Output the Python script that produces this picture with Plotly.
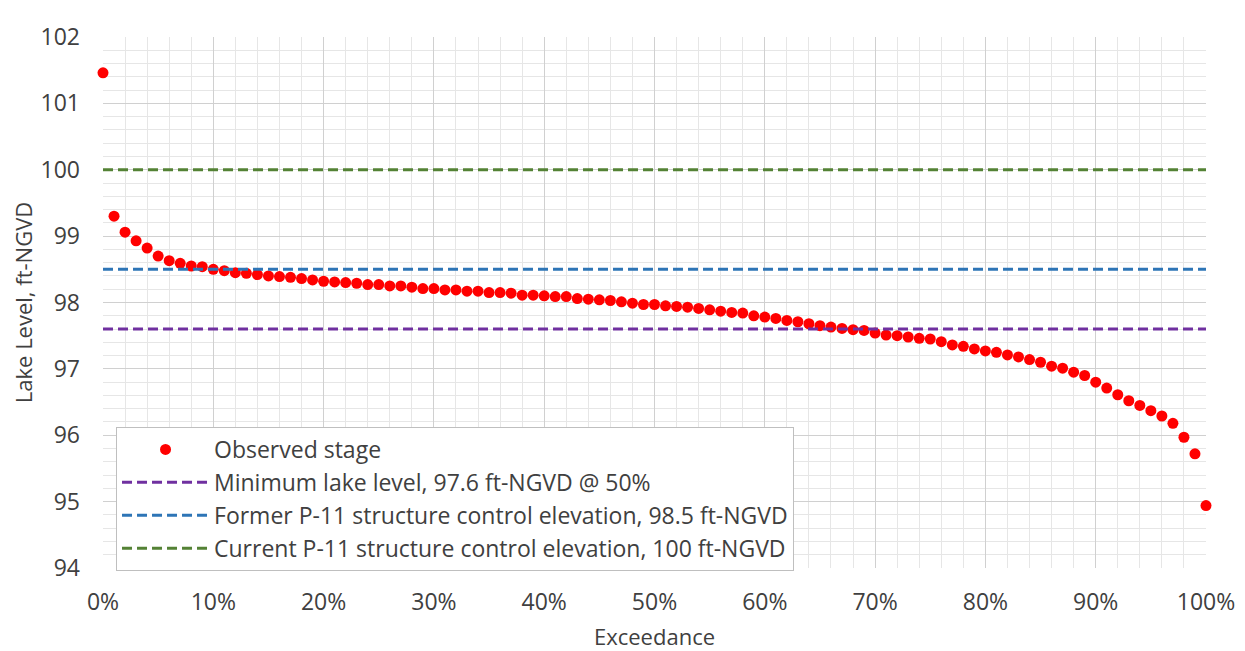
import plotly.graph_objects as go

exceedance = [i / 100 for i in range(101)]
observed_stage = [
    101.46, 99.30, 99.06, 98.93, 98.82, 98.70, 98.63, 98.59, 98.55, 98.54,
    98.50, 98.48, 98.45, 98.44, 98.42, 98.40, 98.39, 98.38, 98.36, 98.34,
    98.32, 98.31, 98.30, 98.29, 98.27, 98.27, 98.25, 98.25, 98.23, 98.21,
    98.21, 98.19, 98.19, 98.17, 98.17, 98.15, 98.15, 98.14, 98.11, 98.11,
    98.10, 98.09, 98.09, 98.06, 98.05, 98.04, 98.03, 98.01, 97.99, 97.97,
    97.97, 97.95, 97.94, 97.93, 97.91, 97.89, 97.87, 97.85, 97.84, 97.80,
    97.78, 97.76, 97.73, 97.71, 97.68, 97.65, 97.63, 97.61, 97.59, 97.58,
    97.54, 97.51, 97.50, 97.48, 97.46, 97.45, 97.41, 97.36, 97.34, 97.30,
    97.27, 97.25, 97.21, 97.18, 97.14, 97.10, 97.04, 97.01, 96.95, 96.90,
    96.80, 96.71, 96.61, 96.52, 96.45, 96.37, 96.29, 96.18, 95.97, 95.72,
    94.94,
]

ref_names = [
    "Minimum lake level, 97.6 ft-NGVD @ 50%",
    "Former P-11 structure control elevation, 98.5 ft-NGVD",
    "Current P-11 structure control elevation, 100 ft-NGVD",
]
ref_levels = [97.6, 98.5, 100.0]
ref_colors = ["#7030A0", "#2E75B6", "#548235"]
line_x = [0.0, 1.0]

FONT = "'Open Sans', Lato, sans-serif"
TXT = "#404040"

fig = go.Figure()
fig.add_trace(go.Scatter(
    x=exceedance, y=observed_stage, mode="markers", name="Observed stage",
    marker=dict(color="#FF0000", size=11, line=dict(width=0)),
    cliponaxis=False,
))
for name, lvl, col in zip(ref_names, ref_levels, ref_colors):
    fig.add_trace(go.Scatter(
        x=line_x, y=[lvl, lvl], mode="lines", name=name,
        line=dict(color=col, width=3, dash="10px,5px"),
    ))

# page body has an 8px margin; figure is sized so plot lands where the reference has it
fig.update_layout(
    width=1237, height=643,
    margin=dict(l=95, r=39, t=29, b=83, autoexpand=False),
    paper_bgcolor="white", plot_bgcolor="white",
    font=dict(family=FONT, size=22, color=TXT),
    showlegend=True,
    legend=dict(
        x=0.0118, y=0.2655, xanchor="left", yanchor="top",
        bgcolor="white", bordercolor="#BFBFBF", borderwidth=1,
        font=dict(family=FONT, size=23, color=TXT),
        itemwidth=87, tracegroupgap=0,
    ),
    xaxis=dict(
        range=[0, 1], dtick=0.1, tick0=0, tickformat=".0%",
        showgrid=True, gridcolor="#D0D0D0", gridwidth=1,
        minor=dict(dtick=0.02, showgrid=True, gridcolor="#E6E6E6", gridwidth=1),
        zeroline=False, showline=False, ticks="", automargin=False,
        ticklabelstandoff=18, tickfont=dict(size=23),
        title=dict(text="Exceedance", font=dict(family=FONT, size=22, color=TXT), standoff=14),
    ),
    yaxis=dict(
        range=[94, 102], dtick=1, tick0=94,
        showgrid=True, gridcolor="#D0D0D0", gridwidth=1,
        minor=dict(dtick=0.2, showgrid=True, gridcolor="#E6E6E6", gridwidth=1),
        zeroline=False, showline=False, ticks="", automargin=False,
        ticklabelstandoff=22, tickfont=dict(size=23),
        title=dict(text="Lake Level, ft-NGVD", font=dict(family=FONT, size=22, color=TXT), standoff=5),
    ),
)

fig.write_html("out.html")
